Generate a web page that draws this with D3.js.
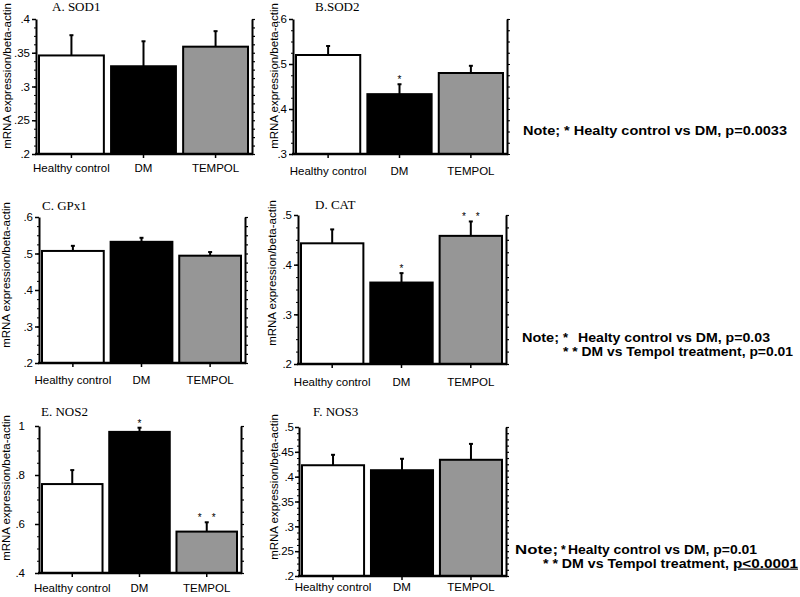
<!DOCTYPE html>
<html><head><meta charset="utf-8">
<script src="https://cdn.jsdelivr.net/npm/d3@7"></script>
<style>body{margin:0;background:#fff} svg{display:block}</style>
</head><body><svg id="c" width="800" height="597"></svg>
<script>
// ---------- data ----------
const categories = ["Healthy control", "DM", "TEMPOL"];
const panelTitles = ["A. SOD1", "B.SOD2", "C. GPx1", "D. CAT", "E. NOS2", "F. NOS3"];
const yAxisTitle = "mRNA expression/beta-actin";

const sod1Means = [0.346, 0.330, 0.359];
const sod1SE    = [0.030, 0.037, 0.023];
const sod2Means = [0.520, 0.433, 0.480];
const sod2SE    = [0.020, 0.022, 0.016];
const gpx1Means = [0.507, 0.532, 0.494];
const gpx1SE    = [0.014, 0.011, 0.010];
const catMeans  = [0.443, 0.364, 0.458];
const catSE     = [0.028, 0.019, 0.029];
const nos2Means = [0.763, 0.976, 0.569];
const nos2SE    = [0.057, 0.017, 0.038];
const nos3Means = [0.423, 0.413, 0.434];
const nos3SE    = [0.021, 0.023, 0.032];

const yDomains = [[0.2, 0.4], [0.3, 0.6], [0.2, 0.6], [0.2, 0.5], [0.4, 1.0], [0.2, 0.5]];
const yTickValues = [
  [0.2, 0.25, 0.3, 0.35, 0.4],
  [0.3, 0.4, 0.5, 0.6],
  [0.2, 0.3, 0.4, 0.5, 0.6],
  [0.2, 0.3, 0.4, 0.5],
  [0.4, 0.6, 0.8, 1.0],
  [0.2, 0.25, 0.3, 0.35, 0.4, 0.45, 0.5]
];
const yTickLabels = [
  [".2", ".25", ".3", ".35", ".4"],
  [".3", ".4", ".5", ".6"],
  [".2", ".3", ".4", ".5", ".6"],
  [".2", ".3", ".4", ".5"],
  [".4", ".6", ".8", "1"],
  [".2", ".25", ".3", ".35", ".4", ".45", ".5"]
];
const sigMarks = [["", "", ""], ["", "*", ""], ["", "", ""], ["", "*", "* *"], ["", "*", "* *"], ["", "", ""]];

const noteB = ["Note; * Healty control vs DM, p=0.0033"];
const noteD = ["Note;", "*", "Healty control vs DM, p=0.03", "* * DM vs Tempol treatment, p=0.01"];
const noteF = ["Note;", "*", "Healty control vs DM, p=0.01", "* * DM vs Tempol treatment, ", "p<0.0001"];

const means = [sod1Means, sod2Means, gpx1Means, catMeans, nos2Means, nos3Means];
const ses = [sod1SE, sod2SE, gpx1SE, catSE, nos2SE, nos3SE];

// ---------- layout ----------
const layout = [
  {l: 36,  r: 252, t: 19,  b: 154, tx: 52,  ty: 11,  ax: 11,  ay: 76,  lab: 168, pad: 2},
  {l: 293, r: 507, t: 19,  b: 154, tx: 315, ty: 11,  ax: 278, ay: 76,  lab: 171, pad: 2},
  {l: 39,  r: 245, t: 217, b: 363, tx: 42,  ty: 210, ax: 10,  ay: 275, lab: 380, pad: 2},
  {l: 298, r: 506, t: 215, b: 364, tx: 315, ty: 209, ax: 276, ay: 273, lab: 382, pad: 2},
  {l: 39,  r: 241, t: 426, b: 573, tx: 41,  ty: 416, ax: 10,  ay: 488, lab: 588, pad: 10},
  {l: 299, r: 506, t: 427, b: 576, tx: 313, ty: 416, ax: 278, ay: 487, lab: 587, pad: 1}
];
const fills = ["#ffffff", "#000000", "#969696"];
const sans = "Arial, 'Liberation Sans', sans-serif";
const serif = "'Times New Roman', 'Liberation Serif', serif";

const svg = d3.select("#c");

panelTitles.forEach((title, i) => {
  const L = layout[i];
  const g = svg.append("g");
  const y = d3.scaleLinear().domain(yDomains[i]).range([L.b, L.t]);
  const x = d3.scaleBand().domain(categories).range([L.l + 3, L.r - 4]).paddingInner(0.1).paddingOuter(0);

  const ticks = yTickValues[i];
  const step = ticks[1] - ticks[0];
  const minor = d3.range(yDomains[i][0], yDomains[i][1] + 1e-9, step / 4);

  const data = categories.map((c, k) => ({c, m: means[i][k], se: ses[i][k], s: sigMarks[i][k], f: fills[k]}));
  data.forEach(d => {
    const cx = x(d.c) + x.bandwidth() / 2;
    g.append("line").attr("x1", cx).attr("x2", cx).attr("y1", y(d.m)).attr("y2", y(d.m + d.se))
      .attr("stroke", "#000").attr("stroke-width", 2);
    g.append("line").attr("x1", cx - 2).attr("x2", cx + 2).attr("y1", y(d.m + d.se)).attr("y2", y(d.m + d.se))
      .attr("stroke", "#000").attr("stroke-width", 2);
    if (d.s) {
      g.append("text").attr("x", cx).attr("y", y(d.m + d.se) - 1).attr("text-anchor", "middle")
        .attr("font-family", sans).attr("font-size", 10).text(d.s.replace(" ", "\u2003"));
    }
  });
  g.selectAll("rect.bar").data(data).enter().append("rect").attr("class", "bar")
    .attr("x", d => x(d.c)).attr("width", x.bandwidth())
    .attr("y", d => y(d.m)).attr("height", d => y(yDomains[i][0]) - y(d.m))
    .attr("fill", d => d.f).attr("stroke", "#000").attr("stroke-width", 2);

  const la = g.append("g").attr("transform", `translate(${L.l},0)`)
    .call(d3.axisLeft(y).tickValues(ticks).tickFormat((d, k) => yTickLabels[i][k]).tickSize(4).tickSizeOuter(0).tickPadding(L.pad));
  la.select(".domain").attr("stroke-width", 2);
  la.selectAll(".tick line").attr("stroke-width", 1.5);
  la.selectAll("text").attr("font-family", sans).attr("font-size", 11.5).attr("fill", "#000");
  const lm = g.append("g").attr("transform", `translate(${L.l},0)`)
    .call(d3.axisLeft(y).tickValues(minor).tickFormat("").tickSize(2).tickSizeOuter(0));
  lm.select(".domain").remove();

  const ra = g.append("g").attr("transform", `translate(${L.r},0)`)
    .call(d3.axisRight(y).tickValues(minor).tickFormat("").tickSize(3).tickSizeOuter(0));
  ra.select(".domain").attr("stroke-width", 2);
  ra.selectAll(".tick line").attr("stroke-width", 1.2);

  g.append("line").attr("x1", L.l - 1).attr("x2", L.r + 1).attr("y1", y(yDomains[i][0])).attr("y2", y(yDomains[i][0]))
    .attr("stroke", "#000").attr("stroke-width", 2.5);
  const ba = g.append("g").attr("transform", `translate(0,${y(yDomains[i][0])})`)
    .call(d3.axisBottom(x).tickSize(4).tickSizeOuter(0).tickFormat(""));
  ba.select(".domain").remove();
  ba.selectAll(".tick line").attr("stroke-width", 1.5);

  g.selectAll("text.cat").data(categories).enter().append("text").attr("class", "cat")
    .attr("x", d => x(d) + x.bandwidth() / 2).attr("y", L.lab).attr("dy", "0.35em")
    .attr("text-anchor", "middle").attr("font-family", sans).attr("font-size", 11.5).text(d => d);

  g.append("text").attr("x", L.tx).attr("y", L.ty).attr("font-family", serif).attr("font-size", 13).text(title);

  g.append("text").attr("transform", `translate(${L.ax},${L.ay}) rotate(-90)`)
    .attr("text-anchor", "middle").attr("font-family", sans).attr("font-size", 11.5).text(yAxisTitle);
});

// notes
function note(x, y, size, len, str) {
  const t = svg.append("text").attr("x", x).attr("y", y).attr("font-family", sans)
    .attr("font-size", size).attr("font-weight", "bold").attr("fill", "#000");
  if (str !== undefined) t.text(str);
  if (len) t.attr("textLength", len).attr("lengthAdjust", "spacingAndGlyphs");
  return t;
}
note(523, 134.5, 13, 264, noteB[0]);
note(522, 341.5, 13, 37, noteD[0]);
note(563, 341.5, 13, null, noteD[1]);
note(578, 341.5, 13, 192, noteD[2]);
note(563, 356, 13, 230, noteD[3]);
note(515, 553.5, 12, 43, noteF[0]);
note(561, 553.5, 12, null, noteF[1]);
note(568, 553.5, 12, 189, noteF[2]);
note(543, 567.5, 12, 186, noteF[3]);
const u = note(733, 567.5, 12, 65, noteF[4]);
u.attr("text-decoration", "underline").style("text-decoration", "underline");
</script></body></html>
